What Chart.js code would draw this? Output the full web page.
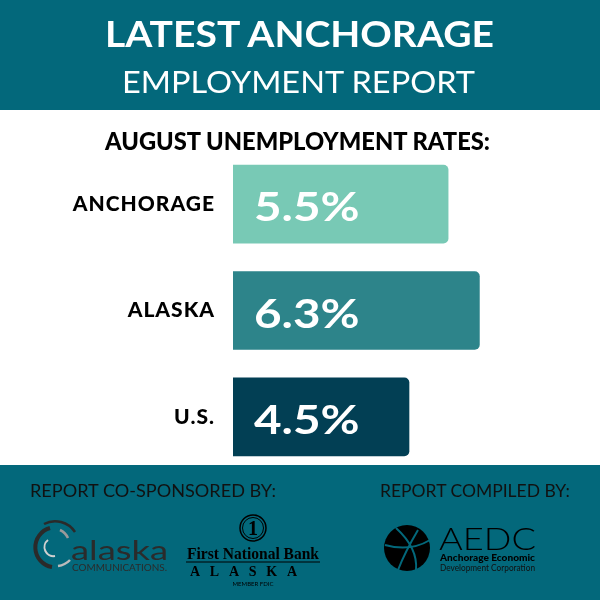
<!DOCTYPE html>
<html><head><meta charset="utf-8">
<script src="https://cdn.jsdelivr.net/npm/chart.js@4/dist/chart.umd.min.js"></script>
<style>
html,body{margin:0;padding:0;background:#fff;}
#wrap{position:relative;width:600px;height:600px;overflow:hidden;font-family:Lato,"Open Sans",sans-serif;}
.band{position:absolute;left:0;width:600px;background:#03687B;}
canvas{position:absolute;left:0;top:0;}
svg{position:absolute;left:0;top:0;}
</style></head>
<body>
<div id="wrap">
  <div class="band" style="top:0;height:110px;"></div>
  <div class="band" style="top:465px;height:135px;"></div>
  <canvas id="c" width="600" height="600"></canvas>
  <svg width="600" height="600" viewBox="0 0 600 600" font-family="Lato, 'Open Sans', sans-serif">
    <!-- header -->
    <text x="105" y="47" font-size="36" font-weight="700" fill="#fff" textLength="389" lengthAdjust="spacingAndGlyphs">LATEST ANCHORAGE</text>
    <text x="122" y="93" font-size="31" font-weight="400" fill="#fff" textLength="353" lengthAdjust="spacingAndGlyphs">EMPLOYMENT REPORT</text>
    <text x="105" y="150" font-size="24" font-weight="900" fill="#000" textLength="385" lengthAdjust="spacingAndGlyphs">AUGUST UNEMPLOYMENT RATES:</text>
    <!-- footer headings -->
    <text x="30" y="497" font-size="17" font-weight="400" fill="#111" textLength="246" lengthAdjust="spacingAndGlyphs">REPORT CO-SPONSORED BY:</text>
    <text x="380" y="497" font-size="17" font-weight="400" fill="#111" textLength="190" lengthAdjust="spacingAndGlyphs">REPORT COMPILED BY:</text>
    <!-- alaska communications logo -->
    <path d="M 50 528 A 20 20 0 0 0 52 567" fill="none" stroke="#2a2a2a" stroke-width="4"/>
    <path d="M 44 524 A 24 24 0 0 1 75 532" fill="none" stroke="#2a2a2a" stroke-width="2.5"/>
    <path d="M 60 530 A 17 17 0 0 1 68 538" fill="none" stroke="#9a9a9a" stroke-width="2.5"/>
    <path d="M 48 540 A 9 9 0 0 0 55 556" fill="none" stroke="#d0d0d0" stroke-width="2"/>
    <path d="M 58 566 A 20 20 0 0 0 70 560" fill="none" stroke="#bbbbbb" stroke-width="2.5"/>
    <text x="71" y="560" font-size="27" font-weight="400" fill="#2b2b2b" textLength="97" lengthAdjust="spacingAndGlyphs">alaska</text>
    <text x="72" y="571" font-size="8.5" font-weight="400" fill="#2b2b2b" textLength="95" lengthAdjust="spacingAndGlyphs">COMMUNICATIONS.</text>
    <!-- First National Bank -->
    <circle cx="253" cy="528" r="13" fill="none" stroke="#000" stroke-width="1.5"/>
    <circle cx="253" cy="528" r="10.5" fill="none" stroke="#000" stroke-width="1"/>
    <text x="253" y="535" text-anchor="middle" font-family="Liberation Serif, serif" font-size="20" font-weight="700" fill="#000">1</text>
    <text x="187" y="559" font-family="Liberation Serif, serif" font-size="17" font-weight="700" fill="#000" textLength="132" lengthAdjust="spacingAndGlyphs">First National Bank</text>
    <line x1="186" y1="562" x2="320" y2="562" stroke="#000" stroke-width="1"/>
    <text x="190" y="576" font-family="Liberation Serif, serif" font-size="14" font-weight="700" fill="#000" textLength="107" lengthAdjust="spacing">ALASKA</text>
    <text x="253" y="586" text-anchor="middle" font-size="6" font-weight="400" fill="#000">MEMBER FDIC</text>
    <!-- AEDC -->
    <circle cx="407" cy="548" r="23" fill="#000"/>
    <path d="M 385 545 Q 410 552 430 540" fill="none" stroke="#03687B" stroke-width="2"/>
    <path d="M 396 528 Q 418 548 416 570" fill="none" stroke="#03687B" stroke-width="2"/>
    <path d="M 418 530 Q 405 552 398 570" fill="none" stroke="#03687B" stroke-width="2"/>
    <text x="439" y="550" font-size="32" font-weight="300" fill="#000" textLength="97" lengthAdjust="spacingAndGlyphs">AEDC</text>
    <text x="440" y="561" font-size="9.5" font-weight="900" fill="#000" textLength="95" lengthAdjust="spacingAndGlyphs">Anchorage Economic</text>
    <text x="440" y="571" font-size="9" font-weight="400" fill="#111" textLength="95" lengthAdjust="spacingAndGlyphs">Development Corporation</text>
  </svg>
</div>
<script>
const categories = ['ANCHORAGE', 'ALASKA', 'U.S.'];
const rates = [5.5, 6.3, 4.5];
const rateLabels = ['5.5%', '6.3%', '4.5%'];
const barColors = ['#78C9B5', '#2D848A', '#023F54'];

const spacingPlugin = {
  id: 'tickSpacing',
  beforeDraw(chart) { chart.ctx.letterSpacing = '1px'; }
};

const valueLabelPlugin = {
  id: 'valueLabels',
  afterDatasetsDraw(chart) {
    const ctx = chart.ctx;
    const meta = chart.getDatasetMeta(0);
    meta.data.forEach((bar, i) => {
      ctx.save();
      ctx.letterSpacing = '0px';
      ctx.fillStyle = '#ffffff';
      ctx.font = '700 40px Lato, "Open Sans", sans-serif';
      ctx.textAlign = 'left';
      ctx.textBaseline = 'alphabetic';
      ctx.translate(bar.base + 21, bar.y + 17);
      ctx.scale(1.19, 1);
      ctx.fillText(rateLabels[i], 0, 0);
      ctx.restore();
    });
  }
};

new Chart(document.getElementById('c'), {
  type: 'bar',
  data: {
    labels: categories,
    datasets: [{
      data: rates,
      backgroundColor: barColors,
      borderRadius: 5,
      borderSkipped: 'start',
      barThickness: 78
    }]
  },
  options: {
    indexAxis: 'y',
    responsive: false,
    animation: false,
    devicePixelRatio: 1,
    layout: { padding: { left: 0, right: 15, top: 151, bottom: 130 } },
    plugins: { legend: { display: false }, tooltip: { enabled: false } },
    scales: {
      x: { display: false, min: 0, max: 9 },
      y: {
        grid: { display: false, drawTicks: false },
        border: { display: false },
        ticks: { color: '#000', padding: 18, font: { family: 'Lato, "Open Sans", sans-serif', size: 21, weight: '900' } },
        afterFit(scale) { scale.width = 233; }
      }
    }
  },
  plugins: [spacingPlugin, valueLabelPlugin]
});
</script>
</body></html>
